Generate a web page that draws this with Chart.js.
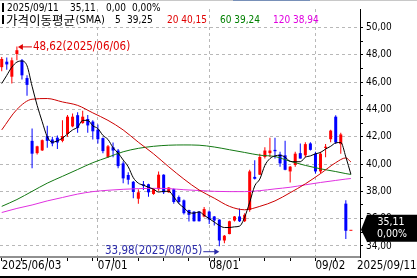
<!DOCTYPE html>
<html>
<head>
<meta charset="utf-8">
<script src="https://cdn.jsdelivr.net/npm/chart.js@4.4.1/dist/chart.umd.min.js"></script>
<style>
  html, body { margin: 0; padding: 0; background: #fff; }
  #wrap { width: 417px; height: 278px; }
</style>
</head>
<body>
<div id="wrap"><canvas id="chart" width="417" height="278"></canvas></div>
<script>
// Daily candles 2025/06/03 .. 2025/09/11 (one entry per trading day)
const opens = [47.10, 47.50, 46.40, 48.06, 47.60, 46.30, 41.70, 40.80, 41.00, 42.05,
               41.80, 41.93, 41.70, 42.20, 42.76, 43.58, 43.00, 43.30, 43.11, 42.52,
               41.90, 40.52, 41.23, 40.99, 40.05, 39.20, 38.70, 37.46, 38.52, 38.52,
               37.81, 38.16, 39.22, 37.93, 38.16, 37.58, 37.34, 36.63, 36.51, 36.51,
               36.16, 36.52, 36.16, 35.93, 34.40, 34.87, 35.86, 36.16, 35.81, 36.63,
               39.06, 39.22, 40.52, 40.80, 41.04, 40.71, 40.64, 39.46, 39.93, 40.80,
               40.64, 41.51, 40.76, 39.46, 41.18, 41.82, 43.47, 41.46, 37.10, 35.11];
const highs = [47.85, 47.80, 47.80, 48.62, 47.70, 46.50, 42.60, 41.35, 41.80, 42.80,
               42.00, 42.10, 43.20, 43.60, 43.70, 43.80, 43.90, 43.60, 43.20, 42.90,
               41.95, 41.40, 41.58, 41.10, 40.20, 39.40, 38.75, 38.16, 38.75, 38.55,
               38.20, 39.45, 39.25, 38.30, 38.20, 37.70, 37.40, 36.65, 36.55, 36.55,
               36.85, 36.60, 36.20, 35.95, 34.80, 35.85, 36.20, 36.75, 36.40, 39.58,
               40.28, 40.75, 41.23, 41.93, 41.93, 40.90, 41.70, 39.85, 40.90, 41.50,
               41.60, 41.60, 40.90, 40.90, 41.46, 42.52, 43.58, 42.29, 37.34, 35.11];
const lows = [46.80, 46.90, 45.90, 47.60, 46.20, 45.00, 39.70, 40.70, 40.95, 41.20,
              41.30, 41.10, 41.60, 42.00, 42.70, 42.30, 42.95, 42.30, 41.80, 41.50,
              40.80, 40.45, 40.50, 39.70, 38.60, 38.50, 37.50, 37.10, 38.10, 37.60,
              37.75, 38.05, 37.80, 37.90, 37.10, 37.10, 36.30, 35.80, 35.80, 35.80,
              36.10, 35.60, 35.50, 33.98, 34.20, 34.85, 35.80, 35.75, 35.75, 36.50,
              38.87, 39.20, 40.40, 40.52, 40.40, 39.80, 39.55, 38.64, 39.80, 40.40,
              40.50, 41.00, 39.30, 39.30, 40.50, 41.60, 41.46, 40.76, 34.50, 35.11];
const closes = [47.70, 47.30, 47.60, 48.34, 46.50, 45.80, 40.76, 41.30, 41.75, 41.70,
                41.50, 41.58, 42.05, 43.47, 43.47, 42.64, 43.47, 42.83, 42.40, 41.82,
                40.95, 41.30, 40.99, 39.85, 38.95, 38.85, 37.95, 37.93, 38.40, 37.93,
                38.16, 39.22, 37.93, 38.28, 37.22, 37.22, 36.40, 36.28, 35.81, 35.81,
                36.70, 35.93, 35.86, 34.40, 34.75, 35.81, 36.16, 35.81, 36.28, 39.46,
                38.92, 40.52, 40.99, 40.99, 40.94, 40.05, 39.58, 39.81, 40.76, 40.40,
                41.46, 41.04, 39.46, 40.76, 41.27, 42.45, 41.58, 42.17, 35.11, 35.11];

// 5-day SMA, read at every candle
const ma5 = [45.90, 46.50, 47.10, 47.47, 47.55, 47.20, 45.70, 44.30, 43.10, 42.00,
             41.60, 41.70, 41.90, 42.20, 42.50, 42.70, 43.20, 43.20, 42.80, 42.60,
             42.10, 41.80, 41.20, 40.80, 40.30, 39.80, 39.00, 38.60, 38.45, 38.30,
             38.16, 37.95, 38.00, 38.00, 37.60, 37.10, 36.80, 36.45, 36.40, 36.50,
             36.25, 36.00, 35.75, 35.50, 35.35, 35.35, 35.40, 35.45, 36.10, 37.20,
             38.40, 38.90, 39.90, 40.40, 40.60, 40.64, 40.50, 40.20, 40.17, 40.17,
             40.50, 40.60, 40.75, 40.85, 41.10, 41.30, 41.55, 41.58, 40.52, 39.25];

// longer SMAs, read every third candle
const maIdx = [0, 3, 6, 9, 12, 15, 18, 21, 24, 27, 30, 33, 36, 39, 42, 45, 48, 51, 54, 57, 60, 63, 66, 68, 69];
const ma20 = [42.50, 44.00, 44.75, 44.80, 44.55, 44.30, 43.75, 43.20, 42.50, 41.60, 40.75, 39.80,
              38.90, 38.10, 37.50, 36.90, 36.65, 36.90, 37.30, 37.90, 38.55, 39.30, 40.10, 40.45, 40.15];
const ma60 = [36.90, 37.40, 38.00, 38.60, 39.10, 39.60, 40.10, 40.50, 40.90, 41.15, 41.30, 41.38,
              41.40, 41.38, 41.25, 41.05, 40.85, 40.65, 40.55, 40.20, 39.90, 39.65, 39.45, 39.30, 39.24];
const ma120 = [36.45, 36.75, 37.00, 37.30, 37.55, 37.80, 37.98, 38.08, 38.15, 38.20, 38.22, 38.20,
               38.12, 38.06, 38.00, 37.98, 37.98, 38.05, 38.18, 38.30, 38.48, 38.65, 38.80, 38.90, 38.94];

// date axis
const dateTickIdx = [0, 19, 41, 62];
const dateTickLabels = ['2025/06/03', '07/01', '08/01', '09/02'];
const weekTickIdx = [4, 9, 13, 18, 22, 27, 32, 37, 42, 47, 52, 57, 66];
const lastDate = '2025/09/11';

const UP = '#ff0000';
const DOWN = '#0000ff';
const GRID = '#b8b8b8';
const NARROW = "'DejaVu Sans Condensed', 'Noto Sans CJK KR', sans-serif";

const idx = closes.map((_, i) => i);
const candleColors = idx.map(i => closes[i] >= opens[i] ? UP : DOWN);
const fmt = v => v.toFixed(2).replace('.', ',');

function maLine(values, xs, color, order) {
    return {
        type: 'line',
        data: xs.map((x, k) => ({ x: x, y: values[k] })),
        borderColor: color,
        borderWidth: 1,
        pointRadius: 0,
        cubicInterpolationMode: 'monotone',
        order: order
    };
}

// header, high/low marks, last price tag
const overlay = {
    id: 'overlay',
    afterDraw(chart) {
        const { ctx, scales: { x, y } } = chart;
        const last = closes.length - 1;
        ctx.save();
        ctx.textBaseline = 'middle';

        // thin frame line on top
        ctx.fillStyle = '#c8c8c8';
        ctx.fillRect(0, 0, 417, 1);
        ctx.fillStyle = '#7890b8';
        ctx.fillRect(233, 0, 77, 1);

        // header lines
        ctx.fillStyle = '#000';
        ctx.fillRect(2, 3, 2, 9);
        ctx.fillRect(2, 15, 2, 9);
        ctx.font = '10px ' + NARROW;
        ctx.fillText(lastDate, 7, 8);
        ctx.fillText(fmt(closes[last]), 70, 8);
        ctx.fillText('0,00', 106, 8);
        ctx.fillText('0,00%', 132, 8);
        ctx.font = '12.5px "Noto Sans CJK KR"';
        ctx.fillText('가격이동평균', 6, 20);
        const kw = ctx.measureText('가격이동평균').width;
        ctx.font = '11px ' + NARROW;
        ctx.fillText('(SMA)', 6 + kw + 0.5, 20);
        ctx.font = '10px ' + NARROW;
        ctx.fillText('5', 115, 20);
        ctx.fillText(fmt(ma5[last]), 127, 20);
        ctx.fillStyle = '#e00000';
        ctx.fillText('20 ' + fmt(ma20[ma20.length - 1]), 167, 20);
        ctx.fillStyle = '#008000';
        ctx.fillText('60 ' + fmt(ma60[ma60.length - 1]), 220, 20);
        ctx.fillStyle = '#e000e0';
        ctx.fillText('120 ' + fmt(ma120[ma120.length - 1]), 273, 20);

        // highest high
        ctx.font = '11.5px ' + NARROW;
        const hi = highs.indexOf(Math.max(...highs));
        let px = x.getPixelForValue(hi), py = y.getPixelForValue(highs[hi]);
        ctx.strokeStyle = ctx.fillStyle = '#e00000';
        ctx.beginPath();
        ctx.moveTo(px + 3, py + 0.5);
        ctx.lineTo(px + 15, py + 0.5);
        ctx.stroke();
        ctx.beginPath();
        ctx.moveTo(px + 1, py + 0.5);
        ctx.lineTo(px + 6, py - 2.5);
        ctx.lineTo(px + 6, py + 3.5);
        ctx.fill();
        ctx.fillText(fmt(highs[hi]) + '(2025/06/06)', px + 16, py + 1);

        // lowest low
        const lo = lows.indexOf(Math.min(...lows));
        px = x.getPixelForValue(lo); py = y.getPixelForValue(lows[lo]);
        ctx.strokeStyle = ctx.fillStyle = '#2a2aa8';
        ctx.beginPath();
        ctx.moveTo(px - 16, py + 5.5);
        ctx.lineTo(px - 2, py + 5.5);
        ctx.stroke();
        ctx.beginPath();
        ctx.moveTo(px, py + 5.5);
        ctx.lineTo(px - 5, py + 2.5);
        ctx.lineTo(px - 5, py + 8.5);
        ctx.fill();
        ctx.textAlign = 'right';
        ctx.fillText(fmt(lows[lo]) + '(2025/08/05)', px - 17, py + 5);

        // last price tag
        py = y.getPixelForValue(closes[last]);
        ctx.fillStyle = '#000';
        ctx.beginPath();
        ctx.moveTo(361, py - 1);
        ctx.lineTo(367, py - 16);
        ctx.lineTo(417, py - 16);
        ctx.lineTo(417, py + 11);
        ctx.lineTo(367, py + 11);
        ctx.closePath();
        ctx.fill();
        ctx.fillStyle = '#fff';
        ctx.textAlign = 'center';
        ctx.font = '10.5px ' + NARROW;
        ctx.fillText(fmt(closes[last]), 391, py - 9);
        ctx.fillText('0,00%', 392, py + 3);

        // date at the right end of the time axis
        ctx.fillStyle = '#000';
        ctx.textAlign = 'left';
        ctx.font = '11.5px ' + NARROW;
        ctx.fillText(lastDate, 357, 266);
        ctx.fillRect(0, 276, 417, 2);
        ctx.restore();
    }
};

new Chart(document.getElementById('chart'), {
    type: 'bar',
    data: {
        datasets: [
            maLine(ma5, idx, '#000000', 1),
            maLine(ma20, maIdx, '#cc0000', 2),
            maLine(ma60, maIdx, '#127812', 3),
            maLine(ma120, maIdx, '#e030e0', 4),
            {
                type: 'bar',
                data: idx.map(i => ({ x: i, y: [opens[i], closes[i]] })),
                backgroundColor: candleColors,
                barThickness: 3,
                minBarLength: 1,
                grouped: false,
                inflateAmount: 0,
                order: 5
            },
            {
                type: 'bar',
                data: idx.map(i => ({ x: i, y: [lows[i], highs[i]] })),
                backgroundColor: candleColors,
                barThickness: 1,
                grouped: false,
                inflateAmount: 0,
                order: 6
            }
        ]
    },
    options: {
        responsive: false,
        animation: false,
        devicePixelRatio: 1,
        events: [],
        layout: { padding: 0 },
        plugins: {
            legend: { display: false },
            tooltip: { enabled: false }
        },
        scales: {
            x: {
                type: 'linear',
                min: -0.34,
                max: 70.8,
                offset: false,
                afterBuildTicks: axis => {
                    axis.ticks = dateTickIdx.concat(weekTickIdx).sort((a, b) => a - b).map(v => ({ value: v }));
                },
                afterFit: axis => { axis.height = 21; },
                grid: {
                    offset: false,
                    color: c => (c.tick && c.tick.value > 0 && dateTickIdx.includes(c.tick.value)) ? GRID : 'rgba(0,0,0,0)',
                    tickColor: '#000',
                    tickLength: 4
                },
                border: { color: '#909090', width: 2, dash: [3, 3] },
                ticks: {
                    autoSkip: false,
                    maxRotation: 0,
                    minRotation: 0,
                    align: 'start',
                    padding: -2,
                    color: '#000',
                    font: { family: NARROW, size: 11.5 },
                    callback: v => {
                        const k = dateTickIdx.indexOf(v);
                        return k >= 0 ? dateTickLabels[k] : '';
                    }
                }
            },
            y: {
                position: 'right',
                min: 33.19,
                max: 51.36,
                beginAtZero: false,
                afterBuildTicks: axis => {
                    const t = [];
                    for (let v = 34; v <= 50; v++) t.push({ value: v });
                    axis.ticks = t;
                },
                afterFit: axis => { axis.width = 57; },
                grid: {
                    color: c => (c.tick && c.tick.value % 2 === 0) ? GRID : 'rgba(0,0,0,0)',
                    tickColor: '#000',
                    tickLength: 3
                },
                border: { color: '#000', width: 1, dash: [3, 3] },
                ticks: {
                    padding: 3,
                    color: '#000',
                    font: { family: NARROW, size: 10 },
                    callback: v => (v % 2 === 0 ? fmt(v) : '')
                }
            }
        }
    },
    plugins: [overlay]
});
</script>
</body>
</html>
